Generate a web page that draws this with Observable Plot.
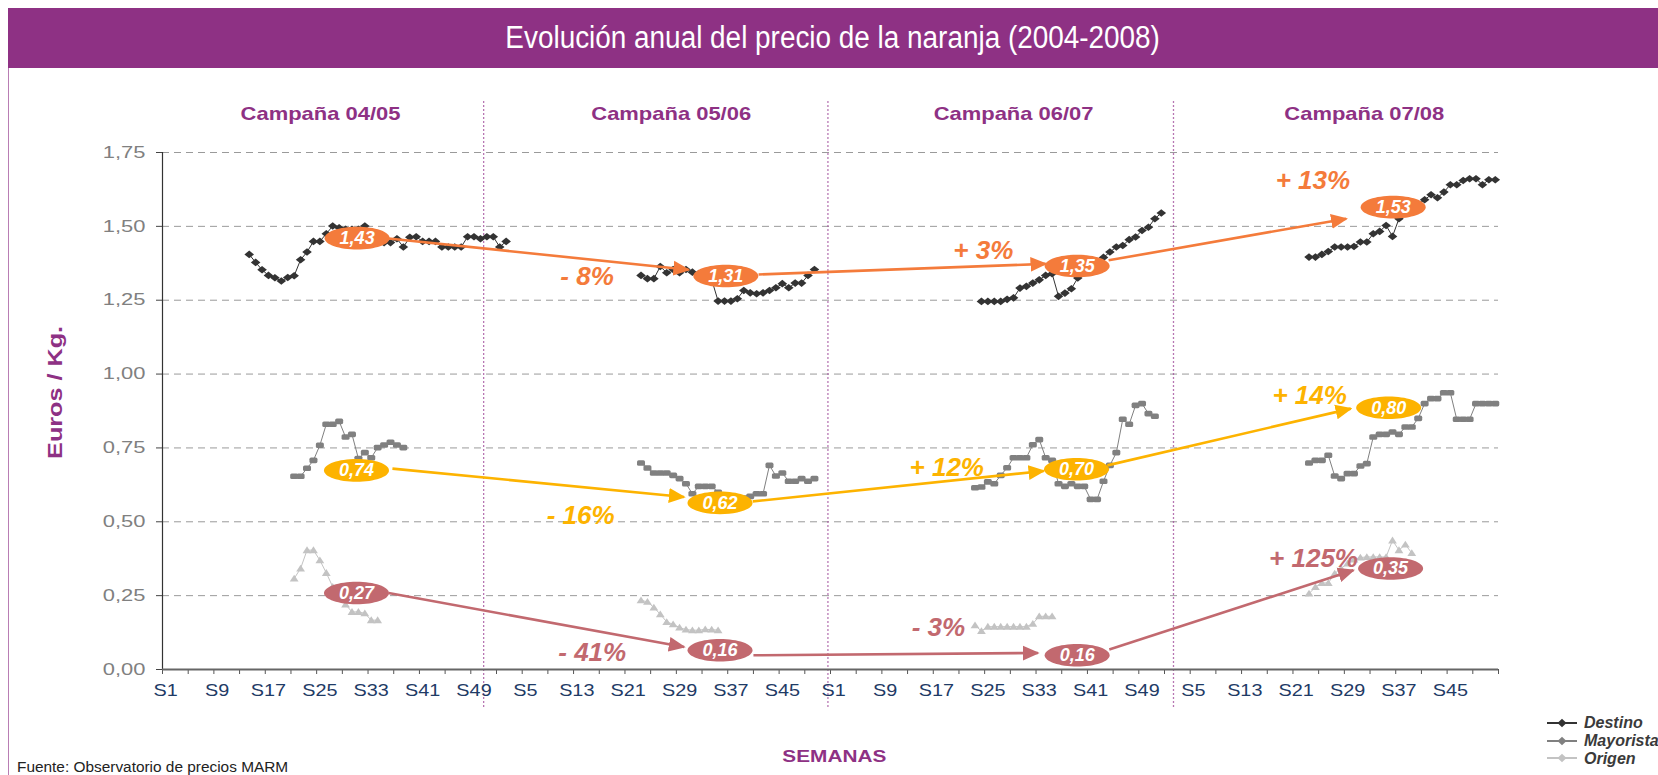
<!DOCTYPE html>
<html>
<head>
<meta charset="utf-8">
<script src="https://cdn.jsdelivr.net/npm/d3@7"></script>
<script src="https://cdn.jsdelivr.net/npm/@observablehq/plot@0.6"></script>
<style>
html,body{margin:0;padding:0;background:#fff;width:1658px;height:775px;overflow:hidden;font-family:"Liberation Sans",Arial,sans-serif;}
#banner{position:absolute;left:8px;top:8px;width:1650px;height:60px;background:#8E3184;}
#title{position:absolute;left:0;width:1650px;top:12px;text-align:center;color:#fff;font-size:31px;line-height:36px;}
#title span{display:inline-block;transform:scaleX(0.9);}
#leftline{position:absolute;left:8px;top:68px;width:1px;height:707px;background:#B97DB4;}
#chart{position:absolute;left:0;top:68px;}
#source{position:absolute;left:17px;top:758px;font-size:15.4px;line-height:17px;color:#222;}
#legend{position:absolute;left:1546px;top:714px;font-weight:bold;font-style:italic;font-size:16px;color:#3a3a3a;}
#legend .row{height:17.8px;display:flex;align-items:center;white-space:nowrap;}
#legend svg{margin-right:4px;}
</style>
</head>
<body>
<div id="banner"><div id="title"><span>Evolución anual del precio de la naranja (2004-2008)</span></div></div>
<div id="leftline"></div>
<div id="chart"></div>
<div id="source">Fuente: Observatorio de precios MARM</div>
<div id="legend"></div>
<script>
// ---------- DATA ----------
const weekLabels = ["S1","S9","S17","S25","S33","S41","S49","S5","S13","S21","S29","S37","S45",
                    "S1","S9","S17","S25","S33","S41","S49","S5","S13","S21","S29","S37","S45"];
const weekCount = 208;
const yTicks = [0, 0.25, 0.5, 0.75, 1, 1.25, 1.5, 1.75];
const campaigns = ["Campaña 04/05", "Campaña 05/06", "Campaña 06/07", "Campaña 07/08"];
const campaignWeek = [24.6, 79.2, 132.5, 187.1];
const separatorWeek = [50, 103.6, 157.4];
const seriesNames = ["Destino", "Mayorista", "Origen"];
const axisTitleX = "SEMANAS";
const axisTitleY = "Euros / Kg.";

// week index where each campaign's series starts
const destinoStart = [13, 74, 127, 178];
const destino = [
  [1.405,1.378,1.353,1.334,1.326,1.315,1.327,1.333,1.387,1.413,1.449,1.449,1.475,1.501,1.495,1.49,1.49,1.49,1.501,1.48,1.46,1.445,1.445,1.458,1.43,1.463,1.465,1.449,1.449,1.449,1.43,1.43,1.43,1.43,1.465,1.465,1.458,1.465,1.465,1.43,1.449],
  [1.334,1.323,1.323,1.364,1.343,1.354,1.343,1.354,1.345,1.34,1.335,1.32,1.247,1.247,1.247,1.255,1.283,1.275,1.272,1.275,1.283,1.292,1.306,1.292,1.308,1.308,1.334,1.354],
  [1.246,1.246,1.246,1.246,1.253,1.258,1.291,1.297,1.308,1.319,1.334,1.34,1.263,1.274,1.289,1.325,1.345,1.36,1.38,1.395,1.413,1.43,1.435,1.455,1.464,1.486,1.497,1.526,1.545],
  [1.396,1.396,1.405,1.415,1.43,1.43,1.43,1.432,1.447,1.447,1.475,1.483,1.503,1.466,1.526,1.55,1.565,1.576,1.59,1.607,1.597,1.616,1.641,1.641,1.655,1.661,1.661,1.641,1.658,1.658]
];
const mayoristaStart = [20, 74, 126, 178];
const mayorista = [
  [0.654,0.654,0.681,0.708,0.759,0.83,0.83,0.84,0.787,0.796,0.714,0.734,0.717,0.751,0.76,0.769,0.76,0.751],
  [0.699,0.682,0.665,0.665,0.665,0.657,0.646,0.629,0.595,0.62,0.62,0.62,0.6,0.58,0.58,0.58,0.58,0.586,0.595,0.595,0.691,0.655,0.665,0.637,0.637,0.646,0.637,0.646],
  [0.615,0.618,0.635,0.629,0.657,0.683,0.717,0.717,0.717,0.761,0.778,0.717,0.708,0.629,0.62,0.629,0.62,0.62,0.576,0.576,0.637,0.691,0.734,0.847,0.83,0.894,0.9,0.866,0.857],
  [0.699,0.708,0.708,0.725,0.655,0.646,0.663,0.663,0.689,0.697,0.787,0.796,0.796,0.804,0.796,0.821,0.821,0.85,0.9,0.917,0.917,0.937,0.937,0.847,0.847,0.847,0.9,0.9,0.9,0.9]
];
const origenStart = [20, 74, 126, 178];
const origen = [
  [0.308,0.342,0.404,0.404,0.37,0.327,0.28,0.25,0.22,0.195,0.195,0.19,0.167,0.167],
  [0.234,0.229,0.21,0.187,0.161,0.153,0.142,0.135,0.133,0.133,0.136,0.135,0.133],
  [0.15,0.13,0.145,0.145,0.145,0.145,0.145,0.145,0.145,0.155,0.18,0.18,0.18],
  [0.257,0.279,0.293,0.293,0.325,0.342,0.359,0.372,0.379,0.381,0.381,0.381,0.381,0.437,0.404,0.423,0.394]
];

// campaign average labels (ellipses)
const destinoAvg = ["1,43", "1,31", "1,35", "1,53"];
const destinoAvgWeek = [30.3, 87.7, 142.4, 191.6];
const destinoAvgY = [1.46, 1.332, 1.366, 1.565];
const mayoristaAvg = ["0,74", "0,62", "0,70", "0,80"];
const mayoristaAvgWeek = [30.2, 86.8, 142.3, 190.9];
const mayoristaAvgY = [0.674, 0.564, 0.678, 0.886];
const origenAvg = ["0,27", "0,16", "0,16", "0,35"];
const origenAvgWeek = [30.2, 86.8, 142.4, 191.2];
const origenAvgY = [0.259, 0.065, 0.048, 0.342];

// arrows between averages: [weekFrom, yFrom, weekTo, yTo]
const destinoArrows = [[35.2,1.459,81.9,1.353],[92.8,1.337,137.5,1.373],[147.3,1.385,184.3,1.526]];
const mayoristaArrows = [[35.8,0.68,81.2,0.584],[91.9,0.569,137.2,0.672],[147.1,0.691,185.0,0.883]];
const origenArrows = [[35.2,0.259,81.2,0.076],[92.0,0.048,136.3,0.056],[147.4,0.068,185.4,0.336]];

// percentage changes
const destinoPct = ["- 8%", "+ 3%", "+ 13%"];
const destinoPctWeek = [66.1, 127.8, 179.1];
const destinoPctY = [1.328, 1.418, 1.653];
const mayoristaPct = ["- 16%", "+ 12%", "+ 14%"];
const mayoristaPctWeek = [65.1, 122.1, 178.6];
const mayoristaPctY = [0.522, 0.683, 0.926];
const origenPct = ["- 41%", "- 3%", "+ 125%"];
const origenPctWeek = [66.9, 120.8, 179.2];
const origenPctY = [0.057, 0.143, 0.375];

// ---------- COLORS / SHAPES ----------
const C = {destino: "#333333", mayorista: "#808080", origen: "#C3C3C3",
           orange: "#F47B3B", gold: "#FDB300", rose: "#C2696F", purple: "#8E3184", navy: "#1F3B66", grey: "#808080"};

const diamondSym = {draw(p){p.moveTo(0,-3.8);p.lineTo(4.8,0);p.lineTo(0,3.8);p.lineTo(-4.8,0);p.closePath();}};
const roundRectSym = {draw(p){const w=4,h=2.8,r=1.6;p.moveTo(-w+r,-h);p.lineTo(w-r,-h);p.quadraticCurveTo(w,-h,w,-h+r);p.lineTo(w,h-r);p.quadraticCurveTo(w,h,w-r,h);p.lineTo(-w+r,h);p.quadraticCurveTo(-w,h,-w,h-r);p.lineTo(-w,-h+r);p.quadraticCurveTo(-w,-h,-w+r,-h);p.closePath();}};
const triangleSym = {draw(p){p.moveTo(0,-3.8);p.lineTo(4.4,3);p.lineTo(-4.4,3);p.closePath();}};
const ellipseSym = {draw(p){const rx=32.5,ry=11.3,k=0.5523;p.moveTo(rx,0);p.bezierCurveTo(rx,ry*k,rx*k,ry,0,ry);p.bezierCurveTo(-rx*k,ry,-rx,ry*k,-rx,0);p.bezierCurveTo(-rx,-ry*k,-rx*k,-ry,0,-ry);p.bezierCurveTo(rx*k,-ry,rx,-ry*k,rx,0);p.closePath();}};

// ---------- BUILD ROWS ----------
const rows = (starts, values) => values.flatMap((vals, c) => vals.map((v, k) => ({campaign: c, week: starts[c] + k + 0.5, value: v})));
const dRows = rows(destinoStart, destino);
const mRows = rows(mayoristaStart, mayorista);
const oRows = rows(origenStart, origen);
const avgRows = (t, w, y) => t.map((s, i) => ({text: s, week: w[i], value: y[i]}));
const arrowRows = a => a.map(([w1, y1, w2, y2]) => ({w1, y1, w2, y2}));
const fmt = d => d.toFixed(2).replace(".", ",");

const seriesMarks = (data, color, sym) => [
  Plot.line(data, {x: "week", y: "value", z: "campaign", stroke: color, strokeWidth: 1}),
  Plot.dot(data, {x: "week", y: "value", symbol: sym, fill: color, r: 4})
];
const annotMarks = (avg, arrows, pct, color) => [
  Plot.link(arrows, {x1: "w1", y1: "y1", x2: "w2", y2: "y2", stroke: color, strokeWidth: 2.6, markerEnd: "arrow"}),
  Plot.dot(avg, {x: "week", y: "value", symbol: ellipseSym, fill: color, r: 10}),
  Plot.text(avg, {x: "week", y: "value", text: "text", fill: "white", fontSize: 18, fontWeight: "bold", fontStyle: "italic"}),
  Plot.text(pct, {x: "week", y: "value", text: "text", fill: color, fontSize: 26, fontWeight: "bold", fontStyle: "italic"})
];

const chart = Plot.plot({
  width: 1658, height: 707,
  marginLeft: 162, marginRight: 160, marginTop: 84, marginBottom: 106,
  x: {type: "linear", domain: [0, weekCount], label: null},
  y: {domain: [0, 1.75], label: null},
  style: {fontFamily: "'Liberation Sans', Arial, sans-serif", background: "transparent", overflow: "visible"},
  marks: [
    Plot.ruleY(yTicks.filter(d => d > 0), {stroke: "#9a9a9a", strokeDasharray: "7,5"}),
    Plot.ruleX(separatorWeek, {y1: -0.128, y2: 1.93, stroke: "#A04A9A", strokeWidth: 1.3, strokeDasharray: "1.5,2.5"}),
    Plot.axisY({ticks: yTicks, tickSize: 6, tickFormat: () => "", stroke: "#444", label: null}),
    Plot.axisY({ticks: yTicks, tickSize: 0, tickPadding: 17, tickFormat: fmt, color: C.grey, fontSize: 16.5, label: null}),
    Plot.axisX({ticks: d3.range(0, weekCount + 1, 4), tickSize: 5, tickFormat: () => "", stroke: "#555", label: null}),
    Plot.axisX({ticks: weekLabels.map((d, i) => i * 8 + 0.5), tickSize: 0, tickPadding: 15, tickFormat: d => weekLabels[Math.round((d - 0.5) / 8)], color: C.navy, fontSize: 16, label: null}),
    Plot.ruleX([0], {stroke: "#333", strokeWidth: 1.2}),
    Plot.ruleY([0], {stroke: "#666", strokeWidth: 2}),
    ...seriesMarks(oRows, C.origen, triangleSym),
    ...seriesMarks(mRows, C.mayorista, roundRectSym),
    ...seriesMarks(dRows, C.destino, diamondSym),
    ...annotMarks(avgRows(destinoAvg, destinoAvgWeek, destinoAvgY), arrowRows(destinoArrows), avgRows(destinoPct, destinoPctWeek, destinoPctY), C.orange),
    ...annotMarks(avgRows(mayoristaAvg, mayoristaAvgWeek, mayoristaAvgY), arrowRows(mayoristaArrows), avgRows(mayoristaPct, mayoristaPctWeek, mayoristaPctY), C.gold),
    ...annotMarks(avgRows(origenAvg, origenAvgWeek, origenAvgY), arrowRows(origenArrows), avgRows(origenPct, origenPctWeek, origenPctY), C.rose),
    Plot.text(campaigns, {x: (d, i) => campaignWeek[i], y: 1.878, text: d => d, fill: C.purple, fontSize: 18, fontWeight: "bold"}),
    Plot.text([axisTitleX], {x: 104.6, y: -0.296, text: d => d, fill: C.purple, fontSize: 16, fontWeight: "bold"}),
    Plot.text([axisTitleY], {x: -16.66, y: 0.938, text: d => d, rotate: -90, fill: C.purple, fontSize: 21, fontWeight: "bold"})
  ]
});

// filled triangular arrow heads
chart.querySelectorAll("marker").forEach(m => {
  const col = m.getAttribute("stroke");
  m.setAttribute("fill", col); m.setAttribute("stroke", "none");
  m.setAttribute("refX", "4");
  m.setAttribute("markerWidth", "6.5"); m.setAttribute("markerHeight", "6.5");
  while (m.firstChild) m.removeChild(m.firstChild);
  const p = document.createElementNS("http://www.w3.org/2000/svg", "path");
  p.setAttribute("d", "M-5,-4.4L5,0L-5,4.4Z");
  m.appendChild(p);
});

// the chart's own texts are horizontally wide in the original: widen them around their anchor
function stretch(t, s) {
  const tr = t.getAttribute("transform");
  if (tr) { t.setAttribute("transform", tr + ` scale(${s},1)`); return; }
  const x = parseFloat(t.getAttribute("x"));
  if (!isNaN(x)) t.removeAttribute("x");
  t.setAttribute("transform", `translate(${isNaN(x) ? 0 : x},0) scale(${s},1)`);
}
chart.querySelectorAll('g[aria-label="x-axis tick label"] text').forEach(t => stretch(t, 1.24));
chart.querySelectorAll('g[aria-label="y-axis tick label"] text').forEach(t => stretch(t, 1.33));
const stretchMap = new Map([...campaigns.map(c => [c, 1.22]), [axisTitleX, 1.3], [axisTitleY, 1.2]]);
chart.querySelectorAll("text").forEach(t => { const s = stretchMap.get(t.textContent); if (s) stretch(t, s); });

document.getElementById("chart").appendChild(chart);

// legend
const legendColors = [C.destino, C.mayorista, C.origen];
const leg = document.getElementById("legend");
seriesNames.forEach((name, i) => {
  const row = document.createElement("div"); row.className = "row";
  row.innerHTML = `<svg width="34" height="12"><line x1="1" y1="6" x2="31" y2="6" stroke="${legendColors[i]}" stroke-width="2"/><path d="M16,1.8L20.5,6L16,10.2L11.5,6Z" fill="${legendColors[i]}"/></svg><span>${name}</span>`;
  leg.appendChild(row);
});
</script>
</body>
</html>
